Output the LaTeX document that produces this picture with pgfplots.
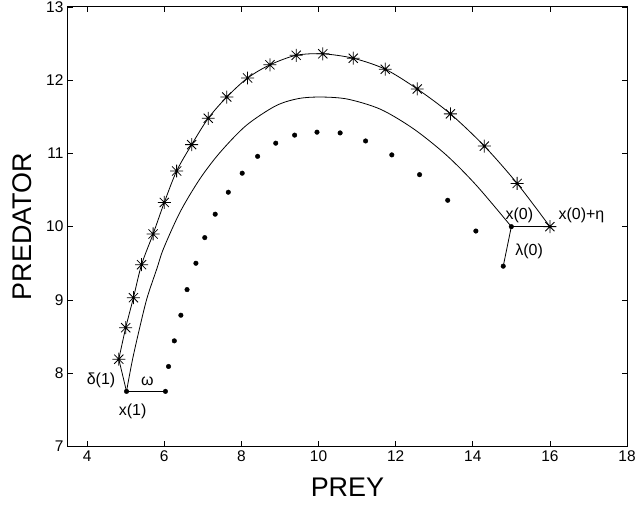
\documentclass[border=0pt]{standalone}
\usepackage{fontspec}
\setmainfont{Liberation Sans}
\usepackage{pgfplots}
\pgfplotsset{compat=1.18}

% MATLAB-style asterisk: plus and cross together
\pgfdeclareplotmark{mstar}{%
  \pgfpathmoveto{\pgfqpoint{-\pgfplotmarksize}{0pt}}%
  \pgfpathlineto{\pgfqpoint{\pgfplotmarksize}{0pt}}%
  \pgfpathmoveto{\pgfqpoint{0pt}{-\pgfplotmarksize}}%
  \pgfpathlineto{\pgfqpoint{0pt}{\pgfplotmarksize}}%
  \pgfpathmoveto{\pgfqpoint{-0.7071\pgfplotmarksize}{-0.7071\pgfplotmarksize}}%
  \pgfpathlineto{\pgfqpoint{0.7071\pgfplotmarksize}{0.7071\pgfplotmarksize}}%
  \pgfpathmoveto{\pgfqpoint{-0.7071\pgfplotmarksize}{0.7071\pgfplotmarksize}}%
  \pgfpathlineto{\pgfqpoint{0.7071\pgfplotmarksize}{-0.7071\pgfplotmarksize}}%
  \pgfusepathqstroke}

\tikzset{ann/.style={font=\fontsize{16bp}{18bp}\selectfont, inner sep=0pt}}

\begin{document}
\begin{tikzpicture}
\begin{axis}[
    name=main,
    scale only axis,
    width=560bp, height=440bp,
    xmin=3.5, xmax=18, ymin=7, ymax=13,
    xtick={4,6,...,18}, ytick={7,8,...,13},
    tick pos=both, tick align=inside,
    major tick length=5bp,
    axis line style={line width=1bp},
    every tick/.style={black, line width=0.7bp},
    /pgf/number format/assume math mode=true,
    tick label style={font=\fontsize{15.5bp}{17bp}\selectfont},
    xticklabel style={yshift=-1bp},
    yticklabel style={xshift=-1bp},
    xlabel={PREY}, ylabel={PREDATOR},
    label style={font=\fontsize{27bp}{30bp}\selectfont},
    xlabel style={at={(axis description cs:0.5,-0.093)}, anchor=center},
    ylabel style={at={(axis description cs:-0.0816,0.5)}, anchor=center},
    clip=false,
]
% upper curve through the asterisks
\addplot[black, line width=0.8bp, smooth, tension=0.5] coordinates {
  (16,10) (15.15,10.59) (14.30,11.10) (13.42,11.54) (12.56,11.88)
  (11.73,12.15) (10.90,12.30) (10.11,12.36) (9.42,12.34) (8.74,12.21)
  (8.16,12.03) (7.62,11.77) (7.14,11.48) (6.71,11.12) (6.32,10.76)
  (6.00,10.33) (5.71,9.90) (5.41,9.48) (5.20,9.03) (5.00,8.62) (4.82,8.19)
};
\addplot[only marks, mark=mstar, mark size=6.5bp, mark options={line width=0.8bp}] coordinates {
  (16,10) (15.15,10.59) (14.30,11.10) (13.42,11.54) (12.56,11.88)
  (11.73,12.15) (10.90,12.30) (10.11,12.36) (9.42,12.34) (8.74,12.21)
  (8.16,12.03) (7.62,11.77) (7.14,11.48) (6.71,11.12) (6.32,10.76)
  (6.00,10.33) (5.71,9.90) (5.41,9.48) (5.20,9.03) (5.00,8.62) (4.82,8.19)
};
% delta(1)
\addplot[black, line width=0.8bp] coordinates {(4.82,8.19) (5.02,7.75)};
% middle trajectory
\addplot[black, line width=0.8bp, smooth, tension=0.5] coordinates {
  (5.02,7.75) (5.17,8.17) (5.34,8.57) (5.55,9.02) (5.81,9.43) (5.98,9.70)
  (6.41,10.20) (6.92,10.65) (7.44,11.01) (8.12,11.38) (8.89,11.65)
  (9.49,11.75) (10.09,11.77) (10.77,11.74) (11.62,11.60) (12.48,11.33)
  (13.33,10.97) (14.10,10.56) (15,10)
};
% omega, eta, lambda(0) segments
\addplot[black, line width=0.8bp] coordinates {(5.02,7.75) (6.03,7.75)};
\addplot[black, line width=0.8bp] coordinates {(15,10) (16,10)};
\addplot[black, line width=0.8bp] coordinates {(15,10) (14.79,9.46)};
% end points
\addplot[only marks, mark=*, mark size=2.3bp] coordinates {(5.02,7.75) (15,10)};
% dotted series
\addplot[only marks, mark=*, mark size=2.3bp] coordinates {
  (6.03,7.75) (6.11,8.09) (6.26,8.44) (6.43,8.79) (6.59,9.14) (6.82,9.50)
  (7.05,9.85) (7.32,10.17) (7.66,10.47) (8.02,10.73) (8.42,10.96)
  (8.89,11.14) (9.38,11.25) (9.96,11.29) (10.56,11.28) (11.22,11.17)
  (11.90,10.98) (12.62,10.71) (13.35,10.36) (14.08,9.94) (14.79,9.46)
};
% annotations
\node[ann] at (axis cs:15.21,10.16) {x(0)};
\node[ann] at (axis cs:16.82,10.16) {x(0)+η};
\node[ann] at (axis cs:15.46,9.66) {λ(0)};
\node[ann] at (axis cs:4.36,7.90) {δ(1)};
\node[ann] at (axis cs:5.56,7.89) {ω};
\node[ann] at (axis cs:5.18,7.48) {x(1)};
\end{axis}
\pgfresetboundingbox
\path ([shift={(-68bp,-59bp)}]main.south west) rectangle ([shift={(12bp,7bp)}]main.north east);
\end{tikzpicture}
\end{document}
